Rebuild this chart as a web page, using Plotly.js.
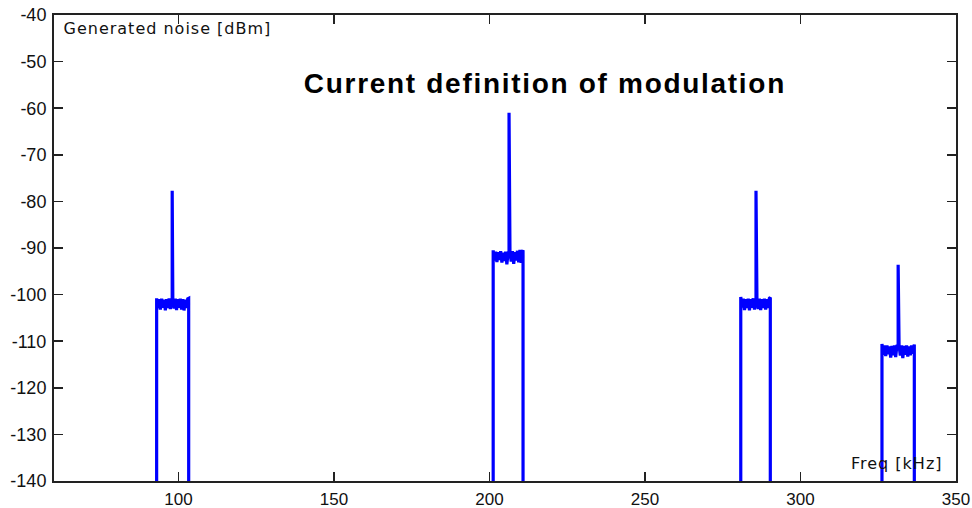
<!DOCTYPE html>
<html>
<head>
<meta charset="utf-8">
<script src="https://cdn.plot.ly/plotly-3.0.1.min.js"></script>
<style>
html,body{margin:0;padding:0;background:#fff;}
#chart{width:972px;height:508px;}
g.annotation[data-index="0"] text{letter-spacing:1.7px;}
g.annotation[data-index="1"] text, g.annotation[data-index="2"] text{letter-spacing:1px;}
</style>
</head>
<body>
<div id="chart"></div>
<script>
// Band 1 (~93–103 kHz, carrier ~98 kHz)
const band1Freq = [93.0, 93.0, 93.4, 93.8, 94.2, 94.6, 95.0, 95.4, 95.8, 96.2, 96.6, 97.0, 97.4, 97.8, 98.0, 98.0, 98.2, 98.6, 99.0, 99.4, 99.8, 100.2, 100.6, 101.0, 101.4, 101.8, 102.2, 102.6, 103.0, 103.3, 103.3];
const band1dBm  = [-141, -100.8, -102.9, -101.0, -103.2, -100.9, -102.8, -101.1, -103.4, -101.0, -102.9, -100.8, -103.1, -101.0, -100.9, -77.7, -101.1, -103.0, -100.9, -103.3, -101.0, -102.8, -100.9, -103.2, -101.0, -103.4, -101.1, -102.9, -100.9, -100.8, -141];

// Band 2 (~201–211 kHz, carrier ~206 kHz)
const band2Freq = [201.2, 201.2, 201.6, 202.0, 202.4, 202.8, 203.2, 203.6, 204.0, 204.4, 204.8, 205.2, 205.6, 206.0, 206.3, 206.3, 206.6, 207.0, 207.4, 207.8, 208.2, 208.6, 209.0, 209.4, 209.8, 210.2, 210.5, 210.8, 210.8];
const band2dBm  = [-141, -90.5, -92.7, -90.8, -93.0, -90.9, -92.6, -90.7, -93.1, -91.0, -92.8, -90.8, -93.5, -91.0, -90.9, -61.0, -91.0, -92.9, -90.7, -93.4, -90.9, -92.7, -90.6, -93.1, -90.4, -93.2, -90.8, -90.5, -141];

// Band 3 (~281–290 kHz, carrier ~286 kHz)
const band3Freq = [280.8, 280.8, 281.2, 281.6, 282.0, 282.4, 282.8, 283.2, 283.6, 284.0, 284.4, 284.8, 285.2, 285.5, 285.7, 285.7, 286.0, 286.4, 286.8, 287.2, 287.6, 288.0, 288.4, 288.8, 289.2, 289.6, 290.0, 290.3, 290.3];
const band3dBm  = [-141, -100.5, -102.8, -100.9, -103.3, -101.0, -102.9, -100.9, -103.4, -101.0, -102.8, -100.8, -103.2, -100.9, -100.9, -77.7, -101.0, -103.1, -100.9, -103.3, -101.0, -102.9, -100.9, -103.2, -101.0, -102.9, -100.8, -100.6, -141];

// Band 4 (~326–337 kHz, carrier ~331 kHz)
const band4Freq = [326.2, 326.2, 326.6, 327.0, 327.4, 327.8, 328.2, 328.6, 329.0, 329.4, 329.8, 330.2, 330.6, 331.0, 331.4, 331.4, 331.7, 332.1, 332.5, 332.9, 333.3, 333.7, 334.1, 334.5, 334.9, 335.3, 335.7, 336.1, 336.6, 336.6];
const band4dBm  = [-141, -110.6, -112.9, -110.9, -113.2, -110.9, -112.8, -111.1, -113.5, -111.0, -113.0, -110.9, -113.4, -111.0, -110.9, -93.6, -111.0, -113.1, -110.9, -113.6, -111.0, -112.9, -110.9, -113.3, -111.1, -113.0, -110.9, -112.7, -110.7, -141];

const xTickVals = [100, 150, 200, 250, 300, 350];
const yTickVals = [-140, -130, -120, -110, -100, -90, -80, -70, -60, -50, -40];

const titleText = 'Current definition of modulation';
const yLabel = 'Generated noise [dBm]';
const xLabel = 'Freq [kHz]';

const bands = [[band1Freq, band1dBm], [band2Freq, band2dBm], [band3Freq, band3dBm], [band4Freq, band4dBm]];
const traces = bands.map(b => ({
  x: b[0], y: b[1], type: 'scatter', mode: 'lines',
  line: {color: '#0000ff', width: 3.2}, hoverinfo: 'skip', showlegend: false
}));

const axisCommon = {
  showgrid: false, zeroline: false, showline: true, linecolor: '#222', linewidth: 2,
  mirror: 'ticks', ticks: 'inside', ticklen: 9, tickwidth: 1.5, tickcolor: '#222'
};

const layout = {
  width: 972, height: 508,
  margin: {l: 54, r: 16, t: 15, b: 27, pad: 0},
  paper_bgcolor: '#fff', plot_bgcolor: '#fff',
  xaxis: Object.assign({}, axisCommon, {range: [60, 350], tickvals: xTickVals, ticktext: xTickVals.map(String), ticklabelstandoff: 2,
    tickfont: {family: 'Liberation Sans, Arial, sans-serif', size: 17, color: '#111'}}),
  yaxis: Object.assign({}, axisCommon, {range: [-140, -40], tickvals: yTickVals, ticktext: yTickVals.map(String), ticklabelstandoff: 2,
    tickfont: {family: 'Liberation Sans, Arial, sans-serif', size: 18, color: '#111'}}),
  annotations: [
    {text: '<b>' + titleText + '</b>', xref: 'paper', yref: 'paper', x: 0.544, y: 0.854, xanchor: 'center', yanchor: 'middle', showarrow: false,
     font: {family: 'Liberation Sans, Arial, sans-serif', size: 28, color: '#000'}},
    {text: yLabel, xref: 'paper', yref: 'paper', x: 0.0195, y: 0.972, xanchor: 'left', yanchor: 'middle', showarrow: false,
     font: {family: 'DejaVu Sans, sans-serif', size: 16, color: '#111'}},
    {text: xLabel, xref: 'paper', yref: 'paper', x: 0.982, y: 0.0386, xanchor: 'right', yanchor: 'middle', showarrow: false,
     font: {family: 'DejaVu Sans, sans-serif', size: 16, color: '#111'}}
  ]
};

Plotly.newPlot('chart', traces, layout, {displayModeBar: false, staticPlot: true});
</script>
</body>
</html>
